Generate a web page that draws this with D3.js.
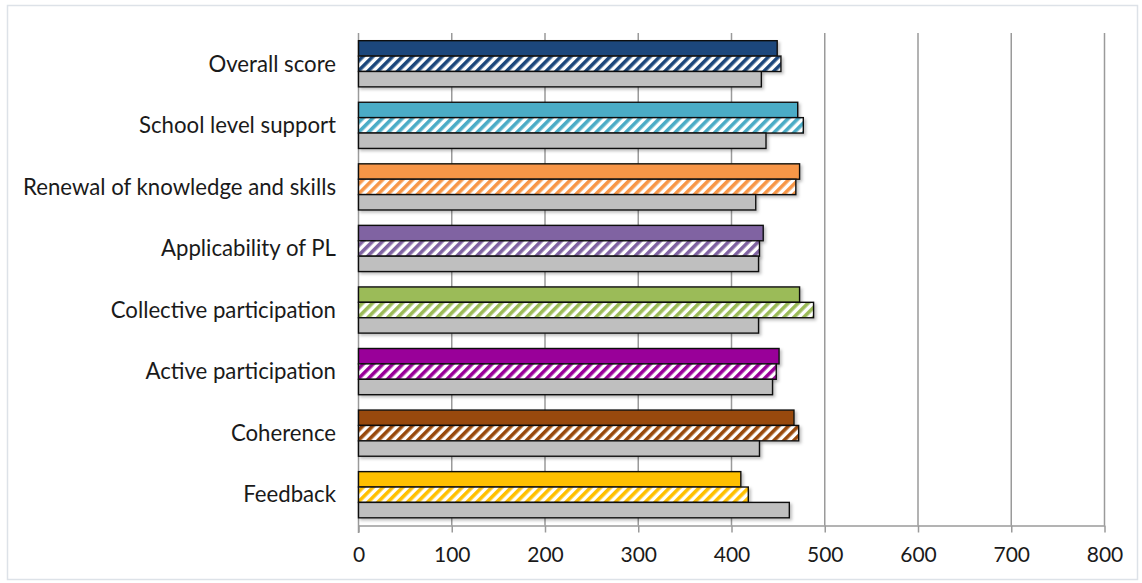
<!DOCTYPE html>
<html><head><meta charset="utf-8">
<script src="https://cdn.jsdelivr.net/npm/d3@7"></script>
<style>body{margin:0;background:#fff}svg{display:block}</style>
</head><body><svg id="c" width="1142" height="583"></svg>
<script>
const categories = ["Overall score","School level support","Renewal of knowledge and skills","Applicability of PL","Collective participation","Active participation","Coherence","Feedback"];
const solidValues = [449,471,473,434,473,451,467,410];
const hatchedValues = [453,477,469,430,488,448,472,418];
const greyValues = [432,437,426,429,429,444,430,462];
const categoryColors = ["#1B477C","#4BACC6","#F79646","#8064A2","#9BBB59","#990099","#984807","#FFC000"];
const greyColor = "#BFBFBF";
const xTicks = [0,100,200,300,400,500,600,700,800];
const seriesKeys = ["solid","hatched","grey"];

const svg = d3.select("#c");
const FONT = "Lato, 'Open Sans', sans-serif";

// outer frame
svg.append("rect").attr("x",7.5).attr("y",5.5).attr("width",1130).attr("height",574)
  .attr("fill","#fff").attr("stroke","#dde2e8").attr("stroke-width",1.5);

const x = d3.scaleLinear().domain([0,800]).range([358.5,1104.5]);
const y = d3.scaleBand().domain(categories).range([33,525.5]).paddingInner(0.25).paddingOuter(0.125);
const sub = d3.scaleBand().domain(seriesKeys).range([0,y.bandwidth()]);

const defs = svg.append("defs");
categoryColors.forEach((c,i)=>{
  const p = defs.append("pattern").attr("id","h"+i).attr("patternUnits","userSpaceOnUse")
    .attr("width",7).attr("height",7).attr("patternTransform","rotate(45)");
  p.append("rect").attr("width",7).attr("height",7).attr("fill","#fff");
  p.append("rect").attr("x",0).attr("width",3.6).attr("height",7).attr("fill",c);
});
const f = defs.append("filter").attr("id","sh").attr("x","-5%").attr("y","-30%").attr("width","110%").attr("height","170%");
f.append("feDropShadow").attr("dx",2).attr("dy",2).attr("stdDeviation",1.5).attr("flood-color","#000").attr("flood-opacity",0.25);

// gridlines
svg.append("g").selectAll("line").data(xTicks.filter(d=>d>0)).join("line")
  .attr("x1",d=>x(d)).attr("x2",d=>x(d)).attr("y1",33).attr("y2",525.5)
  .attr("stroke","#9a9a9a").attr("stroke-width",1.5);

// bottom axis
const ax = svg.append("g").attr("transform","translate(0,525.5)")
  .call(d3.axisBottom(x).tickValues(xTicks).tickSize(7).tickSizeOuter(0).tickPadding(15));
ax.select(".domain").attr("stroke","#9a9a9a").attr("stroke-width",1.5);
ax.selectAll(".tick line").attr("stroke","#9a9a9a").attr("stroke-width",1.5);
ax.selectAll(".tick text").attr("font-family",FONT).attr("font-size",21).attr("fill","#1a1a1a");

// left axis line
svg.append("line").attr("x1",x(0)).attr("x2",x(0)).attr("y1",33).attr("y2",533)
  .attr("stroke","#9a9a9a").attr("stroke-width",1.5);

// bars
const rows = categories.map((c,i)=>({c,i,vals:[
  {k:"solid",v:solidValues[i],fill:categoryColors[i]},
  {k:"hatched",v:hatchedValues[i],fill:`url(#h${i})`},
  {k:"grey",v:greyValues[i],fill:greyColor}]}));
const g = svg.append("g").selectAll("g").data(rows).join("g")
  .attr("transform",d=>`translate(0,${y(d.c)})`);
g.selectAll("rect").data(d=>d.vals).join("rect")
  .attr("x",x(0)).attr("y",d=>sub(d.k)).attr("height",sub.bandwidth())
  .attr("width",d=>x(d.v)-x(0)).attr("fill",d=>d.fill)
  .attr("stroke","#111").attr("stroke-width",1.4).attr("filter","url(#sh)");

// category labels
const lab = svg.append("g").selectAll("text").data(categories).join("text")
  .attr("x",336).attr("y",d=>y(d)+y.bandwidth()/2).attr("dy","0.35em")
  .attr("text-anchor","end").attr("font-family",FONT).attr("font-size",20).attr("fill","#1a1a1a")
  .text(d=>d);
// fit font size so longest label spans like the reference
const longest = lab.filter(d=>d==="Renewal of knowledge and skills").node();
const w = longest.getComputedTextLength();
const fs = 20*313/w;
lab.attr("font-size",fs);
</script></body></html>
